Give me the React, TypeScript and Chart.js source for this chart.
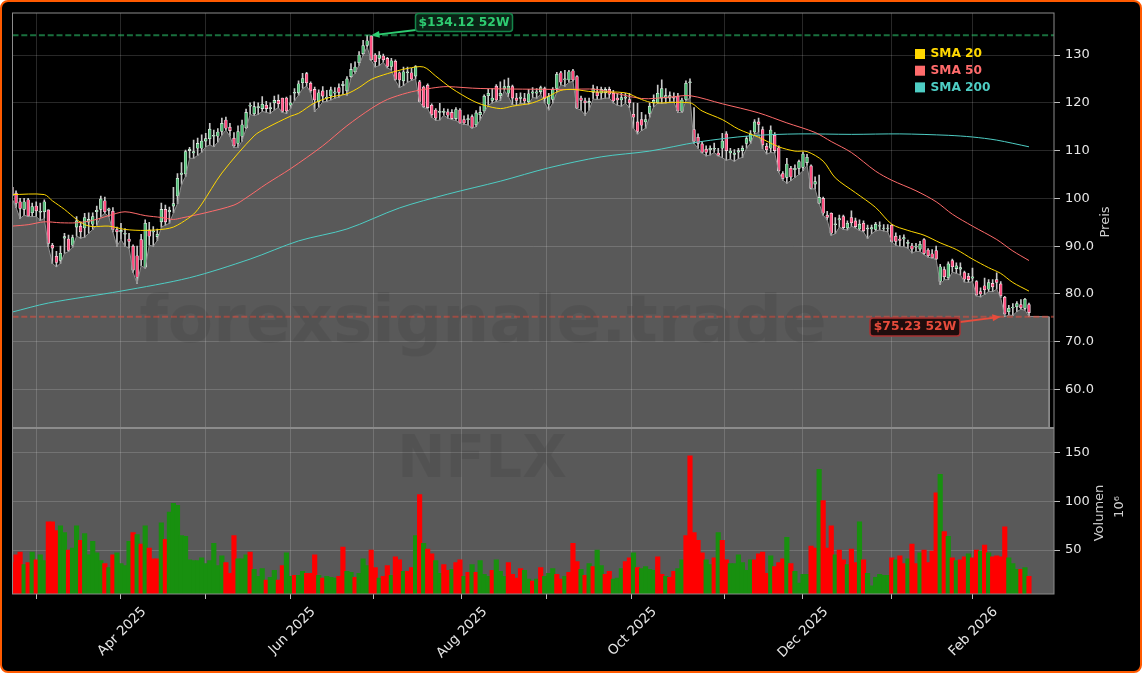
import { useEffect, useRef } from "react"
import { Chart, registerables } from "chart.js"

Chart.register(...registerables)

// NFLX, daily bars
const opens = [
  102.3,101.1,99.3,97.7,99.7,97,98.4,97.1,97.2,97.6,
  90.2,87.9,87,91.7,91.5,90.2,94,94.2,93.8,95,
  94.6,97.2,97.7,99.5,97.5,97.3,93.5,93,92.5,91.5,
  90,88,91.4,85.6,93.4,93,92,95.1,97.7,97.2,
  98.4,100.5,105,105.1,110,109.5,110.5,110.5,112,112.5,
  113,113,114,116.4,114.9,112.6,111.5,113,114.8,119.3,
  117.7,119,118.8,119.5,118.8,120,120.5,121,121,119.5,
  122,122.1,124.2,126.1,124.1,122.8,120.2,122.5,121,121.5,
  122,123.2,123.6,122.5,125.5,126.5,128.4,130.3,132,134,
  130,129.3,129.8,129.3,127.6,128.7,126.3,124.6,126.3,126.3,
  125.6,124.4,123.3,123.7,119.5,118.5,118,118,118.1,118,
  116.7,118.5,116.5,116.5,117.1,115.4,117.5,118.3,121.5,120.5,
  123.5,121.5,123,122,123.4,121,120.9,120.9,120.2,122,
  122,122.3,123,119.7,120.7,123,126.3,124.8,124.8,126.7,
  125.5,121,120.4,120,122.2,122.2,122,122.1,122.8,122,
  121,120.6,121,120.7,117.6,116,116.5,116,117.8,120,
  120,121,121,121,121.2,121.4,118.2,120.7,124.2,114.4,
  112.8,111.4,110.3,110.2,110.3,109.5,110.5,113.5,109.5,109.2,
  109.7,110,111.5,112,113.9,116,114.4,110.9,110.5,113.2,
  110.6,105.2,104.4,106.3,106,106.3,106.5,107.5,106.8,103,
  99,100,96.5,96.9,94.5,95.5,96.2,93.8,96,95.3,
  93.6,94.8,93.6,93.6,93.5,94.2,93.7,93.7,94.4,92.1,
  91.5,91.5,90.6,90.1,89.8,89.4,91.4,89.2,88.4,89.1,
  82.6,85.1,83.4,87,85.3,85.2,84.5,83.7,83.3,82.6,
  80.5,81.7,81,82.2,83,82.1,79.3,76.3,77.1,77.3,77.8,77,77.8,
]
const closes = [
  100.5,99,97.9,99.3,96.3,98.3,97.4,97.3,99.3,90.6,
  89.6,86.6,88.5,92,89.1,91.8,95.3,93,96,95.6,
  96.2,97.5,99.9,97.2,97.8,93.5,93,93.3,92.7,91,
  85,83.5,87.1,94.8,92.1,93.2,92.5,97.7,95.1,97.5,
  98.9,104.2,105.3,109.8,110.3,109.8,111.5,112,112.5,114.5,
  113.2,113.9,115.7,114.7,114.2,111,114,115.4,118,119.5,
  119.2,119.2,119.7,118.8,119,120.5,119.8,118.2,118.3,120,
  122.2,124,125.1,124.2,122.5,120.6,122.1,121.4,121.2,122.7,
  122.3,122.2,123.9,125,127,127.5,130,132,133,129,
  128.6,130,129,127.6,128.8,124.9,124.8,126.5,126.5,125,
  127.6,120.3,119.2,119,117.5,116.8,118.2,118.2,117.4,116.7,
  118.6,115.8,115.8,116.7,114.8,117.9,118,121.4,122,121,
  120.6,122,123.4,123.5,121,120.5,121.2,120.4,121.9,122.3,
  122.3,123.2,120.9,121.3,122.8,126,124.3,125,126.5,124.8,
  118.9,120.5,120,120.3,123,121.5,122.8,122.8,121.8,120.4,
  120.6,121.1,121.2,120,117,114,115.3,116.5,119.3,120.5,
  122,123,121.5,121.5,121,118.3,120.6,124.1,124.4,111.9,
  111.5,109.6,109.6,110.5,110.5,109,112,110,109.9,109.5,
  110,110.5,112.5,113.5,116,115.5,111.2,110.2,114.3,110,
  105.8,104.2,107.2,104.5,106.3,107.7,109.3,108.6,102.1,103.5,
  100.2,96.9,96,92.7,94.7,95.8,93.9,94.8,94.9,94.1,
  94.6,93.2,93.8,93.9,94.6,94.3,93.8,93.8,91,91,
  91.2,91.8,90.8,89.4,90,90.4,88.5,88,87.6,87.3,
  85.7,83.6,86.3,85.7,85.9,85.5,83.1,83,83.6,79.8,
  80,80.9,82.4,81.5,82.4,79.6,75.8,77,77.2,78,77.1,78.9,76.1,
]
const highs = [
  103.3,101.6,100,100,100,99,99.3,99,99.7,97.6,
  90.6,88.9,90,92.7,92.3,92.3,96.2,95.1,96.9,97,
  97,98.4,100.5,100.3,98,98.1,94,94.8,93.7,92.7,
  90.3,90,92.5,95.5,95,94.1,93.6,99,98.6,98.2,
  102.3,105.2,107.5,110.1,110.7,112.2,112.6,113.3,113.6,115.7,
  114.3,114.6,116.8,117,115.7,113.8,115.2,116.4,118.7,120,
  120.2,120,121.3,120.3,120,121.4,121.7,121,121.2,121.5,
  123,124.6,126.2,126.4,124.4,123.3,122.7,123.4,122.6,123.3,
  123.2,124,124.5,125.5,128.2,128.6,130.7,133.1,134.12,134,
  130.3,130.7,130.2,129.5,129.3,129,126.5,127.5,127.5,127.2,
  127.8,124.7,123.5,124,119.8,118.8,119.9,118.8,118.7,118.6,
  119,118.8,117.3,117.5,117.5,118.4,119.2,121.7,122.8,123,
  123.8,124.4,124.8,125.2,123.7,122,122.1,122,122.8,123.2,
  123,123.5,123.3,122,123.2,126.4,126.6,126.8,126.8,127,
  125.7,121.4,121,121,123.7,123.4,123.3,123.2,123.3,122.6,
  122,122,122,122,120,119.9,118,117.5,120,121.7,
  123.7,124.8,123,122.3,122.1,122,121,124.6,125,119,
  113.5,111.8,111,111,111.6,110.5,113.6,114,110.5,110.2,
  110.5,111,113,114.2,116.5,116.8,115,111.5,115.2,113.8,
  111,105.6,108.4,106.7,107,108,109.7,109.2,107,104.5,
  104.9,100.3,97.3,97,96,96.5,96.5,95.3,97.4,95.9,
  95.5,95.3,94.4,94.4,95,95.1,94.5,94.5,94.5,92.8,
  92.2,92.4,91.3,90.6,90.6,91,91.6,89.5,89.3,90,
  86.2,85.7,86.7,87.3,86.5,86.5,84.8,84.3,85.4,82.8,
  81.3,83.3,83,83,84.4,82.6,79.5,77.6,78,78.4,78.8,79.1,78.1,
]
const lows = [
  100,98.1,95.8,96.5,96.2,96.2,96.2,95.4,95.8,89.9,
  86.4,85.7,86.4,88.5,88.9,89.8,92.1,91.7,91.9,92.7,
  93.5,94.4,96.2,96.9,96.2,93,90,91.4,90,89.6,
  84.5,82.2,85.9,85.4,90.2,90,91.2,94,94.4,94.8,
  97,98.9,103,104.6,108.4,108.4,109,109.7,110.8,111.2,
  110.8,111.8,113.3,114.3,113,110.7,110.7,112,114.6,117.6,
  117.3,117.6,118.2,118,117.8,118.5,119,118,117.8,118.9,
  120.5,121.6,123,123.5,122.2,118.2,119.1,120.2,120.3,120.6,
  121,121.2,121.8,121.6,125.3,126.2,127.9,130,131.7,128.9,
  127.5,127.8,128.5,127.3,126.9,124.7,123.2,123.6,124.3,124.7,
  125,120.2,119,118.8,117,116.3,116.4,117.4,116.8,116.5,
  116.3,115.7,115.5,115.4,114.7,115,116.4,118,119.5,120,
  120.3,120.5,122.6,121.3,119.6,119.5,119.9,119.8,119.7,121.1,
  121,121.8,120,118.5,120,122.3,123.8,123.5,124.3,124.5,
  118.8,118.5,117.4,118.5,120.8,120.7,120.8,121,121,120,
  119.5,119.3,119.9,119,114.7,113.5,114.2,114.7,117,119.2,
  119.9,119.9,120,120.2,120.2,118,118,120.5,121,111.5,
  110.5,109.5,108.9,109.1,109.6,108.9,108.5,108,108.2,107.8,
  108.3,108.6,110.5,111.5,113.5,113.8,110.4,109.3,109.6,109.5,
  105.5,103.8,103.2,103.7,104.4,105,105.8,106.9,102,102,
  98.9,96.5,95.5,92.3,92.6,94,93.5,93.4,94.2,93.8,
  93.3,93,91.6,92.6,93.2,93.4,93.2,93,90.9,90.2,
  89.9,89.9,89.6,88.6,88.9,88.9,88.2,87.7,87.5,87.2,
  82,83,83,84.6,84.3,84,82.5,82.4,82.6,79.6,
  79.4,79.9,80.5,80.5,81,79.2,75.23,75.6,75.5,76.3,76.8,76.6,75.3,
]
const volumes = [
  37,45,48,35,37,48,40,45,39,79,
  79,70,75,68,50,52,75,60,67,45,
  59,47,39,36,32,45,47,36,34,59,
  68,66,56,75,52,41,41,78,61,89,
  98,96,65,64,40,39,39,42,36,39,
  57,34,44,37,26,65,41,41,45,48,
  30,23,31,19,22,29,19,34,47,23,
  24,24,28,26,26,45,24,21,23,22,
  21,23,53,28,27,22,26,41,34,50,
  32,21,23,34,24,43,40,28,28,32,
  65,107,57,51,46,39,26,35,29,30,
  37,40,23,27,35,27,39,25,23,29,
  40,28,23,37,25,21,31,29,20,18,
  20,32,23,26,31,25,20,23,27,57,
  38,30,24,36,33,50,34,25,28,20,
  21,31,38,42,47,32,31,33,30,29,
  43,25,23,22,28,31,40,65,147,68,
  60,47,40,35,42,68,60,40,36,36,
  45,37,29,40,40,46,48,26,44,33,
  37,41,63,36,28,16,25,25,54,52,
  133,101,52,75,45,50,40,35,51,37,
  79,40,26,13,22,25,24,24,42,40,
  44,36,41,56,36,47,50,37,49,109,
  128,69,64,42,39,40,43,46,42,50,
  49,55,47,43,44,43,74,42,36,30,30,32,23,
]
// g = green bar, r = red bar
const volumeDir =
  "rrrgrgrggr" + "rrggrggrgg" + "gggrgrgggg" + "rgrgrrrgrg" + "gggggggggg" +
  "gggrrrgggr" + "gggrggrrgg" + "rggrrrgrgg" + "grrggrgggr" + "rgrrgrrgrr" +
  "grgrrggrrg" + "rrgrgrgggr" + "gggrrrrggr" + "grgggrrgrr" + "rgrgrggrrg" +
  "ggrrgrgggg" + "rrgrrggrrr" + "rrggrgrrgg" + "ggggrrrrgr" + "rrgrggggrr" +
  "grrrgrrgrr" + "grggggggrg" + "rrgrrgrrrr" + "grgrgrrgrr" + "grgrrrrgggrgr"

const sma20Idx = [0,8,10,13,16,18,20,24,28,33,38,40,42,45,47,52,60,63,69,71,75,79,83,86,89,93,98,102,105,109,114,117,121,124,129,133,136,139,144,152,156,159,168,171,176,180,185,190,194,197,201,204,209,214,218,222,226,230,234,238,242,245,248,252]
const sma20Val = [100.8,100.8,99.5,97.7,95.6,94.5,94.1,94.2,93.5,93.3,93.6,94,94.9,96.7,98.8,105.3,113.1,114.7,117.2,117.8,120,121.2,121.9,123.2,124.9,126.1,127.2,127.5,125.6,123,120.5,119.5,118.8,119.3,120,121.4,122.6,122.8,122.3,122.1,120.7,120,120,118.3,116.5,114.5,112.8,110.8,109.9,109.8,107.8,104.3,101.2,98.1,94.6,93.3,92.3,90.7,89.3,87.3,85.5,84.3,82.4,80.6]

const sma50Idx = [0,4,8,12,16,20,24,28,33,37,40,42,48,55,58,63,69,77,83,89,93,98,102,106,108,116,137,145,156,163,168,176,185,192,199,203,208,214,218,224,229,233,238,244,248,252]
const sma50Val = [94.2,94.5,95.1,94.9,94.9,95.4,96.4,97.2,96.4,96,95.6,95.9,97,98.6,100.1,103,106.2,111,115.2,118.8,120.7,122.1,122.8,123.3,123.4,123,122.8,122.8,120.9,121.2,121.5,119.8,117.9,115.8,113.8,111.9,109.6,105.7,103.8,101.6,99.3,96.7,94.2,91.4,89,87]

const sma200Idx = [0,9,27,44,59,71,83,96,108,121,133,146,158,170,183,195,208,220,232,238,244,252]
const sma200Val = [76.2,78.1,80.6,83.4,87.3,91.1,93.6,98,100.9,103.6,106.4,108.7,109.9,111.8,113.1,113.5,113.4,113.5,113.2,112.85,112.2,110.8]

const priceTicks = [60,70,80,90,100,110,120,130]
const priceTickLabels = ["60.0","70.0","80.0","90.0","100","110","120","130"]
const volumeTicks = [50,100,150]

const monthIdx = [6,27,48,69,89.5,111.5,132.5,153.5,176.5,196,218,238]
const monthLabels = ["","Apr 2025","","Jun 2025","","Aug 2025","","Oct 2025","","Dec 2025","","Feb 2026"]

const high52 = 134.12
const low52 = 75.23
const highIdx = 89
const lowIdx = 245

// the grey area runs on flat after the last bar and drops to the panel floor
const areaTailIdx = [257,257]
const areaTailVal = [75.23,51.95]

const legendNames = ["SMA 20","SMA 50","SMA 200"]
const legendColors = ["#ffd700","#ff6b6b","#4ecdc4"]

const PRICE_MIN = 51.95
const PRICE_MAX = 138.8
const X_MIN = 0.12
const X_MAX = 258.2

const FONT = "'DejaVu Sans', sans-serif"

function pairs(xs: number[], ys: number[]) {
  return xs.map((x, i) => ({ x, y: ys[i] }))
}

const panelPlugin = {
  id: "panels",
  beforeDatasetsDraw(chart: any) {
    const { ctx, chartArea, scales } = chart
    const v = scales.yVol
    ctx.save()
    // volume panel has the same grey as the area above
    ctx.fillStyle = "rgba(255,255,255,0.35)"
    ctx.fillRect(chartArea.left, v.top, chartArea.width, v.bottom - v.top)
    ctx.restore()
  },
  afterDatasetsDraw(chart: any) {
    const { ctx, chartArea, scales } = chart
    const { x, y, yVol } = scales
    ctx.save()

    // watermarks
    ctx.textAlign = "center"
    ctx.textBaseline = "middle"
    ctx.fillStyle = "rgba(0,0,0,0.07)"
    ctx.font = `bold 66px ${FONT}`
    ctx.fillText("forexsignale.trade", 483, 325)
    ctx.font = `bold 58px ${FONT}`
    ctx.fillText("NFLX", 482, 462)

    // frame and panel split
    ctx.strokeStyle = "#8c8c8c"
    ctx.lineWidth = 1
    ctx.strokeRect(chartArea.left, chartArea.top, chartArea.width, chartArea.height)
    ctx.lineWidth = 2
    ctx.beginPath()
    ctx.moveTo(chartArea.left, yVol.top)
    ctx.lineTo(chartArea.right, yVol.top)
    ctx.stroke()

    // legend
    ctx.textAlign = "left"
    ctx.font = `bold 12.2px ${FONT}`
    legendNames.forEach((name, i) => {
      const cy = 54 + i * 16.7
      ctx.fillStyle = legendColors[i]
      ctx.fillRect(915, cy - 5, 10, 10)
      ctx.fillText(name, 930.5, cy)
    })

    // 52 week labels with arrows
    drawTag(ctx, `$${high52} 52W`, 464, 22.5, 97, 18, "#2ecc71", "#14854a", "#0a2416", x.getPixelForValue(highIdx), y.getPixelForValue(high52), 416, 30)
    drawTag(ctx, `$${low52} 52W`, 915, 327, 90, 18, "#e74c3c", "#a83232", "#1f0d0d", x.getPixelForValue(lowIdx), y.getPixelForValue(low52), 960, 322)

    ctx.restore()
  },
  afterDraw(chart: any) {
    const { ctx } = chart
    ctx.save()
    ctx.fillStyle = "#cfcfcf"
    ctx.font = `13px ${FONT}`
    ctx.textAlign = "center"
    ctx.textBaseline = "middle"
    const side = (text: string, px: number, py: number) => {
      ctx.save()
      ctx.translate(px, py)
      ctx.rotate(-Math.PI / 2)
      ctx.fillText(text, 0, 0)
      ctx.restore()
    }
    side("Preis", 1106, 222)
    side("Volumen", 1100, 513)
    side("10\u2076", 1120, 507)
    ctx.restore()
  },
}

function drawTag(
  ctx: CanvasRenderingContext2D,
  text: string,
  cx: number,
  cy: number,
  w: number,
  h: number,
  color: string,
  edge: string,
  bg: string,
  tipX: number,
  tipY: number,
  tailX: number,
  tailY: number,
) {
  // arrow
  const ang = Math.atan2(tipY - tailY, tipX - tailX)
  ctx.strokeStyle = color
  ctx.fillStyle = color
  ctx.lineWidth = 1.8
  ctx.beginPath()
  ctx.moveTo(tailX, tailY)
  ctx.lineTo(tipX - 6 * Math.cos(ang), tipY - 6 * Math.sin(ang))
  ctx.stroke()
  ctx.beginPath()
  ctx.moveTo(tipX, tipY)
  ctx.lineTo(tipX - 9 * Math.cos(ang - 0.4), tipY - 9 * Math.sin(ang - 0.4))
  ctx.lineTo(tipX - 9 * Math.cos(ang + 0.4), tipY - 9 * Math.sin(ang + 0.4))
  ctx.closePath()
  ctx.fill()

  // box
  ctx.beginPath()
  ctx.roundRect(cx - w / 2, cy - h / 2, w, h, 3)
  ctx.fillStyle = bg
  ctx.fill()
  ctx.strokeStyle = edge
  ctx.lineWidth = 1.5
  ctx.stroke()

  ctx.fillStyle = color
  ctx.font = `bold 12.3px ${FONT}`
  ctx.textAlign = "center"
  ctx.textBaseline = "middle"
  ctx.fillText(text, cx, cy)
}

export default function App() {
  const chartRef = useRef<HTMLCanvasElement>(null)

  useEffect(() => {
    if (!chartRef.current) return
    const ctx = chartRef.current.getContext("2d")
    if (!ctx) return

    const idx = opens.map((_, i) => i)

    const chart = new Chart(ctx, {
      type: "bar",
      data: {
        datasets: [
          {
            type: "bar",
            label: "Volumen",
            yAxisID: "yVol",
            order: 7,
            data: idx.map((i) => ({ x: i, y: volumes[i] })),
            backgroundColor: idx.map((i) => (volumeDir[i] === "g" ? "#18900f" : "#ff0000")),
            barThickness: 4.5,
            grouped: false,
          },
          {
            type: "bar",
            label: "Docht",
            yAxisID: "y",
            order: 6,
            data: idx.map((i) => ({ x: i, y: [lows[i], highs[i]] })),
            backgroundColor: "#c8c8c8",
            barThickness: 1,
            grouped: false,
          },
          {
            type: "bar",
            label: "Kerze",
            yAxisID: "y",
            order: 5,
            data: idx.map((i) => ({ x: i, y: [opens[i], closes[i]] })),
            backgroundColor: idx.map((i) => (closes[i] >= opens[i] ? "#55c07a" : "#ff4f80")),
            borderColor: "#f4f4f4",
            borderWidth: 0.6,
            borderSkipped: false,
            barThickness: 2.8,
            grouped: false,
          },
          {
            type: "line",
            label: "Fläche",
            yAxisID: "y",
            order: 4,
            data: [...idx.map((i) => ({ x: i, y: lows[i] })), ...pairs(areaTailIdx, areaTailVal)],
            borderColor: "#8f8f8f",
            borderWidth: 1,
            backgroundColor: "rgba(255,255,255,0.35)",
            fill: "start",
            pointRadius: 0,
          },
          {
            type: "line",
            label: "SMA 200",
            yAxisID: "y",
            order: 3,
            data: pairs(sma200Idx, sma200Val),
            borderColor: "#4ecdc4",
            borderWidth: 1,
            tension: 0.3,
            pointRadius: 0,
          },
          {
            type: "line",
            label: "SMA 50",
            yAxisID: "y",
            order: 2,
            data: pairs(sma50Idx, sma50Val),
            borderColor: "#ff6b6b",
            borderWidth: 1,
            tension: 0.3,
            pointRadius: 0,
          },
          {
            type: "line",
            label: "SMA 20",
            yAxisID: "y",
            order: 1,
            data: pairs(sma20Idx, sma20Val),
            borderColor: "#ffd700",
            borderWidth: 1,
            tension: 0.3,
            pointRadius: 0,
          },
          {
            type: "line",
            label: "52W Hoch",
            yAxisID: "y",
            order: 0,
            data: [{ x: X_MIN, y: high52 }, { x: X_MAX, y: high52 }],
            borderColor: "rgba(46,204,113,0.55)",
            borderWidth: 2,
            borderDash: [6, 2.8],
            pointRadius: 0,
          },
          {
            type: "line",
            label: "52W Tief",
            yAxisID: "y",
            order: 0,
            data: [{ x: X_MIN, y: low52 }, { x: X_MAX, y: low52 }],
            borderColor: "rgba(231,76,60,0.55)",
            borderWidth: 2,
            borderDash: [6, 2.8],
            pointRadius: 0,
          },
        ] as any,
      },
      options: {
        responsive: false,
        animation: false,
        layout: { padding: { left: 12.5, top: 13, right: 0, bottom: 0 } },
        plugins: { legend: { display: false }, title: { display: false }, tooltip: { enabled: false } },
        scales: {
          x: {
            type: "linear",
            min: X_MIN,
            max: X_MAX,
            offset: false,
            position: "bottom",
            border: { display: false },
            grid: { offset: false, color: "rgba(255,255,255,0.2)", lineWidth: 0.8, tickColor: "#eeeeee", tickLength: 5 },
            afterBuildTicks: (scale: any) => {
              scale.ticks = monthIdx.map((value) => ({ value }))
            },
            afterFit: (scale: any) => {
              scale.height = 79
            },
            ticks: {
              autoSkip: false,
              maxRotation: 45,
              minRotation: 45,
              labelOffset: 23,
              padding: 5,
              color: "#e6e6e6",
              font: { family: FONT, size: 13.5 },
              callback: (value: any) => monthLabels[monthIdx.indexOf(value)] ?? "",
            },
          },
          y: {
            type: "linear",
            position: "right",
            stack: "panels",
            stackWeight: 415,
            weight: 0,
            min: PRICE_MIN,
            max: PRICE_MAX,
            border: { display: false },
            grid: { offset: false, color: "rgba(255,255,255,0.2)", lineWidth: 0.8, tickColor: "#eeeeee", tickLength: 6 },
            afterBuildTicks: (scale: any) => {
              scale.ticks = priceTicks.map((value) => ({ value }))
            },
            afterFit: (scale: any) => {
              scale.width = 88
            },
            ticks: {
              padding: 5,
              color: "#e6e6e6",
              font: { family: FONT, size: 13 },
              callback: (value: any) => priceTickLabels[priceTicks.indexOf(value)] ?? "",
            },
          },
          yVol: {
            type: "linear",
            position: "right",
            stack: "panels",
            stackWeight: 166,
            weight: 1,
            min: 4.7,
            max: 175.7,
            border: { display: false },
            grid: { offset: false, color: "rgba(255,255,255,0.2)", lineWidth: 0.8, tickColor: "#eeeeee", tickLength: 6 },
            afterBuildTicks: (scale: any) => {
              scale.ticks = volumeTicks.map((value) => ({ value }))
            },
            afterFit: (scale: any) => {
              scale.width = 88
            },
            ticks: {
              padding: 5,
              color: "#e6e6e6",
              font: { family: FONT, size: 13 },
            },
          },
        },
      } as any,
      plugins: [panelPlugin],
    })

    return () => {
      chart.destroy()
    }
  }, [])

  return (
    <div
      style={{
        position: "absolute",
        left: 0,
        top: 0,
        width: 1142,
        height: 673,
        boxSizing: "border-box",
        background: "#000",
        border: "2px solid #ff5a00",
        borderRadius: 8,
        overflow: "hidden",
      }}
    >
      <canvas ref={chartRef} width={1142} height={673} style={{ position: "absolute", left: -2, top: -2 }}></canvas>
    </div>
  )
}
